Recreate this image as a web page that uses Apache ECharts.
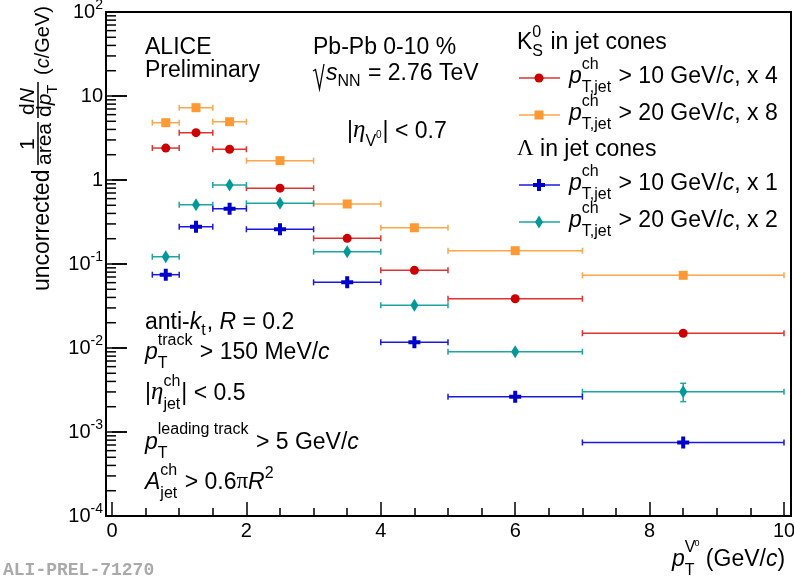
<!DOCTYPE html>
<html>
<head>
<meta charset="utf-8">
<script src="https://cdn.jsdelivr.net/npm/echarts@6/dist/echarts.min.js"></script>
<style>
  html, body { margin: 0; padding: 0; background: #fff; }
  #chart { width: 794px; height: 583px; }
</style>
</head>
<body>
<div id="chart"></div>
<script>
// pT bins (GeV/c)
const binLo = [0.6, 1.0, 1.5, 2.0, 3.0, 4.0, 5.0, 7.0];
const binHi = [1.0, 1.5, 2.0, 3.0, 4.0, 5.0, 7.0, 10.0];
const binCenter = [0.8, 1.25, 1.75, 2.5, 3.5, 4.5, 6.0, 8.5];

// K0S in jet cones
const k0sJet10 = [2.40, 3.66, 2.32, 0.80, 0.202, 0.084, 0.0386, 0.0150];   // x 4
const k0sJet20 = [4.81, 7.26, 4.94, 1.70, 0.518, 0.270, 0.144, 0.0733];    // x 8
// Lambda in jet cones
const lamJet10 = [0.0746, 0.278, 0.455, 0.259, 0.0605, 0.0117, 0.00263, 0.00075]; // x 1
const lamJet20 = [0.122, 0.508, 0.871, 0.528, 0.140, 0.0322, 0.00903, 0.00302];    // x 2
const lamJet20ErrLo = [0, 0, 0, 0, 0, 0, 0, 0.00072];
const lamJet20ErrHi = [0, 0, 0, 0, 0, 0, 0, 0.00078];

const yMantissa = [2, 3, 4, 5, 6, 7, 8, 9];
const yDecades = [-4, -3, -2, -1, 0, 1];
const Y_MIN = 1e-4, Y_MAX = 100;

const GRID_TOP = 12, GRID_BOTTOM = 67, GRID_H = 583 - 12 - 67;

const SANS = '"Liberation Sans", Arial, sans-serif';
const SERIF = '"Liberation Serif", "DejaVu Serif", serif';
const FS = 23;

const RED = '#cc0000', RED_L = '#dd3333';
const ORA = '#ff9933', ORA_L = '#ffa64d';
const BLU = '#0000cc', BLU_L = '#1a1add';
const TEA = '#009999', TEA_L = '#1fa3a3';
const CROSS = 'path://M3,0H6V3H9V6H6V9H3V6H0V3H3Z';

const myChart = echarts.init(document.getElementById('chart'));

// ---- text helpers (measure with a canvas, place by baseline)
const mctx = document.createElement('canvas').getContext('2d');
function width(t, size, it, fam) {
    mctx.font = (it ? 'italic ' : '') + size + 'px ' + (fam || SANS);
    return mctx.measureText(t).width;
}
function txt(x, base, t, size, it, fam, color) {
    return {
        type: 'text', x: x, y: base - 0.34 * size, z: 50,
        style: {
            text: t, fontSize: size, fontFamily: fam || SANS,
            fontStyle: it ? 'italic' : 'normal', fill: color || '#000',
            align: 'left', verticalAlign: 'middle'
        }
    };
}
function seq(x, base, parts, defSize) {
    const els = [];
    parts.forEach(function (p) {
        if (typeof p === 'string') p = { t: p };
        if (p.sup !== undefined || p.sub !== undefined) {
            const s = p.ss || 16;
            let w = 0;
            if (p.sup) {
                els.push(txt(x, base - (p.up || 11), p.sup, s));
                w = Math.max(w, width(p.sup, s));
            }
            if (p.sub) {
                els.push(txt(x, base + (p.down || 6), p.sub, s));
                w = Math.max(w, width(p.sub, s));
            }
            x += w + 1;
            return;
        }
        const size = p.size || defSize || FS;
        x += p.dx || 0;
        els.push(txt(x, base + (p.dy || 0), p.t, size, p.it, p.fam));
        x += width(p.t, size, p.it, p.fam);
    });
    return els;
}

// ---- error bars (bin width) as custom series
function errorBars(vals, color, errLo, errHi) {
    const data = vals.map(function (v, i) {
        return [binCenter[i], v, binLo[i], binHi[i],
            v - (errLo ? errLo[i] : 0), v + (errHi ? errHi[i] : 0)];
    });
    return {
        type: 'custom', data: data, z: 2, silent: true, clip: false,
        encode: { x: 0, y: 1 },
        renderItem: function (params, api) {
            const y = api.value(1);
            const a = api.coord([api.value(2), y]);
            const b = api.coord([api.value(3), y]);
            const lo = api.coord([api.value(0), api.value(4)]);
            const hi = api.coord([api.value(0), api.value(5)]);
            const st = { stroke: color, lineWidth: 1.5 };
            const cap = 3;
            const ch = [
                { type: 'line', shape: { x1: a[0], y1: a[1], x2: b[0], y2: b[1] }, style: st },
                { type: 'line', shape: { x1: a[0], y1: a[1] - cap, x2: a[0], y2: a[1] + cap }, style: st },
                { type: 'line', shape: { x1: b[0], y1: b[1] - cap, x2: b[0], y2: b[1] + cap }, style: st }
            ];
            if (lo[1] - hi[1] > 2) {
                ch.push({ type: 'line', shape: { x1: lo[0], y1: lo[1], x2: hi[0], y2: hi[1] }, style: st });
                ch.push({ type: 'line', shape: { x1: lo[0] - cap, y1: lo[1], x2: lo[0] + cap, y2: lo[1] }, style: st });
                ch.push({ type: 'line', shape: { x1: hi[0] - cap, y1: hi[1], x2: hi[0] + cap, y2: hi[1] }, style: st });
            }
            return { type: 'group', children: ch };
        }
    };
}
function markers(vals, symbol, size, color) {
    return {
        type: 'scatter', z: 5, silent: true,
        symbol: symbol, symbolSize: size,
        itemStyle: { color: color, opacity: 1 },
        data: vals.map(function (v, i) { return [binCenter[i], v]; })
    };
}

// ---- legend (drawn by hand, ROOT style)
function legendRow(cy, lineColor, markColor, kind, jet, scale) {
    const els = [{ type: 'line', z: 50, shape: { x1: 519, y1: cy, x2: 560, y2: cy },
        style: { stroke: lineColor, lineWidth: 1.5 } }];
    const cx = 539;
    if (kind === 'circle') els.push({ type: 'circle', z: 51, shape: { cx: cx, cy: cy, r: 4.5 }, style: { fill: markColor } });
    if (kind === 'rect') els.push({ type: 'rect', z: 51, shape: { x: cx - 4.5, y: cy - 4.5, width: 9, height: 9 }, style: { fill: markColor } });
    if (kind === 'cross') {
        const h = 6, t = 2;
        els.push({ type: 'polygon', z: 51, style: { fill: markColor }, shape: { points: [
            [cx - t, cy - h], [cx + t, cy - h], [cx + t, cy - t], [cx + h, cy - t], [cx + h, cy + t], [cx + t, cy + t],
            [cx + t, cy + h], [cx - t, cy + h], [cx - t, cy + t], [cx - h, cy + t], [cx - h, cy - t], [cx - t, cy - t]] } });
    }
    if (kind === 'diamond') els.push({ type: 'polygon', z: 51, style: { fill: markColor },
        shape: { points: [[cx, cy - 6.5], [cx + 4, cy], [cx, cy + 6.5], [cx - 4, cy]] } });
    return els.concat(seq(569, cy + 6, [{ t: 'p', it: true }, { sup: 'ch', sub: 'T,jet', up: 14, down: 9 },
        ' > ' + jet + ' GeV/', { t: 'c', it: true }, ', x ' + scale]));
}

const option = {
    animation: false,
    backgroundColor: '#fff',
    grid: { left: 112, right: 10, top: GRID_TOP, bottom: GRID_BOTTOM, outerBoundsMode: 'none' },
    xAxis: {
        type: 'value', min: 0, max: 10, interval: 2,
        axisLine: { show: false },
        axisTick: { show: true, inside: true, length: 14, lineStyle: { color: '#000', width: 1.5 } },
        minorTick: { show: true, splitNumber: 4, length: 8, lineStyle: { color: '#000', width: 1.5 } },
        splitLine: { show: false },
        axisLabel: { color: '#000', fontSize: 20, fontFamily: SANS, margin: 5 }
    },
    yAxis: {
        type: 'log', logBase: 10, min: Y_MIN, max: Y_MAX, splitNumber: 6, offset: 6,
        axisLine: { show: false },
        axisTick: { show: true, inside: true, length: 15, lineStyle: { color: '#000', width: 1.5 } },
        splitLine: { show: false },
        axisLabel: {
            color: '#000', fontSize: 20, fontFamily: SANS, margin: 3,
            formatter: function (v) {
                const e = Math.round(Math.log10(v));
                if (e === 0) return '1';
                if (e === 1) return '10';
                return '{b|10}{e|' + e + '}';
            },
            rich: {
                b: { fontSize: 20, fontFamily: SANS, color: '#000' },
                e: { fontSize: 14, fontFamily: SANS, color: '#000', padding: [0, 0, 14, 0] }
            }
        }
    },
    series: [
        errorBars(k0sJet20, ORA_L),
        errorBars(k0sJet10, RED_L),
        errorBars(lamJet20, TEA_L, lamJet20ErrLo, lamJet20ErrHi),
        errorBars(lamJet10, BLU_L),
        markers(k0sJet20, 'rect', 9, ORA),
        markers(k0sJet10, 'circle', 9, RED),
        markers(lamJet20, 'diamond', [8, 13], TEA),
        markers(lamJet10, CROSS, 12, BLU)
    ]
};
myChart.setOption(option);

// pixel of a y value: ask the axis, fall back to the log mapping of the grid
function yPix(v) {
    let p;
    try { p = myChart.convertToPixel({ yAxisIndex: 0 }, v); } catch (e) { p = NaN; }
    if (Array.isArray(p)) p = p[1];
    if (typeof p !== 'number' || !isFinite(p)) {
        const lmax = Math.log10(Y_MAX), lmin = Math.log10(Y_MIN);
        p = GRID_TOP + (lmax - Math.log10(v)) / (lmax - lmin) * GRID_H;
    }
    return p;
}

// y ticks (major at decades, minor at 2..9), inside from the frame
let graphics = [];
yDecades.forEach(function (e) {
    const pMajor = yPix(Math.pow(10, e));
    graphics.push({ type: 'line', z: 55, shape: { x1: 106, y1: pMajor, x2: 127, y2: pMajor },
        style: { stroke: '#000', lineWidth: 1.5 } });
    yMantissa.forEach(function (m) {
        const py = yPix(m * Math.pow(10, e));
        graphics.push({ type: 'line', z: 55, shape: { x1: 106, y1: py, x2: 116, y2: py },
            style: { stroke: '#000', lineWidth: 1.5 } });
    });
});

// frame
graphics.push({ type: 'rect', z: 60, shape: { x: 106, y: 12, width: 685, height: 504 },
    style: { fill: 'none', stroke: '#000', lineWidth: 2 } });
graphics = graphics.concat(
    seq(145, 55, ['ALICE']),
    seq(145, 78, ['Preliminary']),
    seq(313, 55, ['Pb-Pb 0-10 %']),
    seq(326, 81, [{ t: 's', it: true }, { sub: 'NN', down: 6 }, ' = 2.76 TeV']),
    seq(347, 139, ['|', { t: 'η', it: true, fam: SERIF, size: 25 }, { t: 'V', size: 16, dy: 8 },
        { t: '0', size: 10, dy: 0 }, { t: '| < 0.7', dx: 1 }]),
    seq(517, 50, ['K', { sup: '0', sub: 'S', up: 12, down: 7 }, ' in jet cones']),
    legendRow(78, RED_L, RED, 'circle', 10, 4),
    legendRow(115, ORA_L, ORA, 'rect', 20, 8),
    seq(517, 157, [{ t: 'Λ', fam: SERIF }, ' in jet cones']),
    legendRow(185, BLU_L, BLU, 'cross', 10, 1),
    legendRow(222, TEA_L, TEA, 'diamond', 20, 2),
    seq(145, 330, ['anti-', { t: 'k', it: true }, { sub: 't' }, ', ', { t: 'R', it: true }, ' = 0.2']),
    seq(145, 360, [{ t: 'p', it: true }, { sup: 'track', sub: 'T', up: 14, down: 9 }, ' > 150 MeV/', { t: 'c', it: true }]),
    seq(145, 401, ['|', { t: 'η', it: true, fam: SERIF, size: 25 }, { sup: 'ch', sub: 'jet', up: 14, down: 9 }, '| < 0.5']),
    seq(145, 450, [{ t: 'p', it: true }, { sup: 'leading track', sub: 'T', up: 15, down: 9 }, ' > 5 GeV/', { t: 'c', it: true }]),
    seq(145, 490, [{ t: 'A', it: true }, { sup: 'ch', sub: 'jet', up: 14, down: 9 }, ' > 0.6',
        { t: 'π', fam: SERIF }, { t: 'R', it: true }, { sup: '2', up: 11 }]),
    seq(672, 567, [{ t: 'p', it: true }, { sup: 'V', sub: 'T', up: 14, down: 9 }, { t: '0', size: 9, dy: -20, dx: -2 },
        ' (GeV/', { t: 'c', it: true }, ')'])
);
// sqrt sign
graphics.push({ type: 'polyline', z: 50, shape: { points: [[313, 71], [315.5, 69.5], [319.5, 89], [324, 64]] },
    style: { stroke: '#000', lineWidth: 1.3, fill: 'none' } });
// watermark
graphics.push({ type: 'text', x: 3, y: 570, z: 50, style: { text: 'ALI-PREL-71270', fontSize: 18,
    fontFamily: '"Liberation Mono", monospace', fontWeight: 'bold', fill: '#aaaaaa',
    align: 'left', verticalAlign: 'middle' } });

// y axis title (rotated group, kept last); local x runs upwards along the axis
const yTitle = [].concat(
    seq(0, 0, ['uncorrected']),
    seq(141, -15, ['1'], 21),
    [{ type: 'line', z: 50, shape: { x1: 126, y1: -12, x2: 169, y2: -12 }, style: { stroke: '#000', lineWidth: 1.5 } }],
    seq(126, 2, ['area'], 21),
    seq(176, -15, ['d', { t: 'N', it: true }], 21),
    [{ type: 'line', z: 50, shape: { x1: 173, y1: -12, x2: 209, y2: -12 }, style: { stroke: '#000', lineWidth: 1.5 } }],
    seq(174, 2, ['d', { t: 'p', it: true }, { sub: 'T', down: 6, ss: 15 }], 21),
    seq(216, 0, ['(', { t: 'c', it: true }, '/GeV)'], 20)
);
graphics.push({ type: 'group', x: 50, y: 291, rotation: Math.PI / 2, children: yTitle });

myChart.setOption({ graphic: { elements: graphics } });
</script>
</body>
</html>
